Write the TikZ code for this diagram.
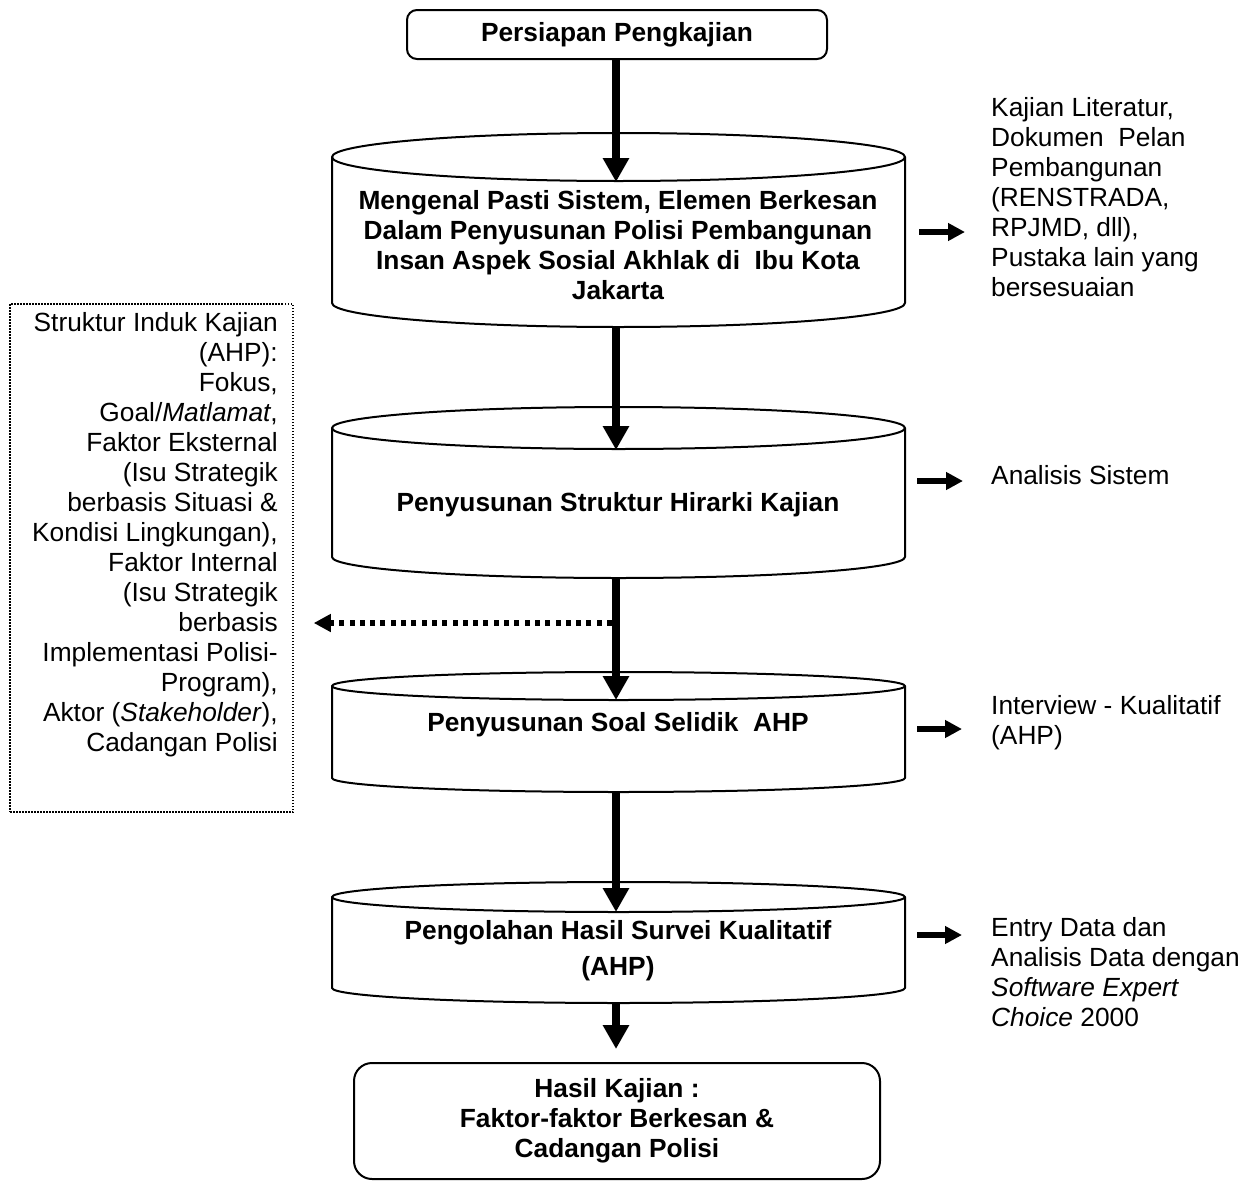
\documentclass[tikz,border=0pt]{standalone}
\usepackage{fontspec}
\setmainfont{Liberation Sans}
\usetikzlibrary{arrows.meta}
\newcommand{\fsz}{\fontsize{26.3}{30}\selectfont}
\newcommand{\drawcyl}[5]{%
  \pgfmathsetmacro{\cylrx}{(#2-#1)/2}%
  \draw[cylline] (#1,-#3-#5) -- (#1,-#4+#5)
     arc[start angle=180,end angle=360,x radius=\cylrx pt,y radius=#5pt]
     -- (#2,-#3-#5)
     arc[start angle=0,end angle=180,x radius=\cylrx pt,y radius=#5pt] -- cycle;
  \draw[cylline] (#1,-#3-#5)
     arc[start angle=180,end angle=360,x radius=\cylrx pt,y radius=#5pt];
}
\begin{document}
\begin{tikzpicture}[x=1pt,y=1pt,
  cylline/.style={line width=2pt,fill=white,line join=round},
  bt/.style={font=\fsz\bfseries,inner sep=0pt,align=center},
  rt/.style={font=\fsz,inner sep=0pt,align=left,anchor=west},
  mainarr/.style={line width=8.5pt,-{Triangle[length=24pt,width=25pt]}},
  sidearr/.style={line width=6.5pt,-{Triangle[length=17pt,width=17pt]}},
  dotarr/.style={line width=6pt,dash pattern=on 5pt off 5.3pt,-{Triangle[length=17pt,width=17pt]}},
  dotbox/.style={draw,line width=1.5pt,dash pattern=on 1.5pt off 1.5pt,inner sep=0pt}
]
\useasboundingbox (0,0) rectangle (1254,-1181);

% cylinders
\drawcyl{332}{905}{133}{327}{24}
\drawcyl{332}{905}{407}{578}{21}
\drawcyl{332}{905}{672}{792}{14}
\drawcyl{332}{905}{882}{1003}{15}

% top box
\node[draw,line width=2pt,rounded corners=10pt,minimum height=49pt,minimum width=420pt,
      inner sep=0pt,align=center,font=\fsz\bfseries]
      (topbox) at (617,-34.5) {Persiapan Pengkajian};

% bottom box
\node[draw,line width=2pt,rounded corners=18pt,minimum width=526pt,minimum height=116pt,
      inner sep=0pt,align=center,font=\fsz\bfseries]
      (resbox) at (617,-1121) {Hasil Kajian :\\Faktor-faktor Berkesan \&\\Cadangan Polisi};

% cylinder texts
\node[bt] (c1) at (618,-245) {Mengenal Pasti Sistem, Elemen Berkesan\\Dalam Penyusunan Polisi Pembangunan\\Insan Aspek Sosial Akhlak di\ \ Ibu Kota\\Jakarta};
\node[bt] (c2) at (618,-505) {Penyusunan Struktur Hirarki Kajian};
\node[bt] (c3) at (618,-724.5) {Penyusunan Soal Selidik\ \ AHP};
\node[bt,font=\fontsize{26.3}{36}\selectfont\bfseries] (c4) at (618,-951) {Pengolahan Hasil Survei Kualitatif\\(AHP)};

% coordinates on the cylinders
\coordinate (c1top) at (616,-182);
\coordinate (c1bot) at (616,-327);
\coordinate (c2top) at (616,-450);
\coordinate (c2bot) at (616,-578);
\coordinate (c3top) at (616,-700);
\coordinate (c3bot) at (616,-792);
\coordinate (c4top) at (616,-912);
\coordinate (c4bot) at (616,-1003);

% right texts
\node[rt] (r1) at (991,-197.5) {Kajian Literatur,\\Dokumen\ \ Pelan\\Pembangunan\\(RENSTRADA,\\RPJMD, dll),\\Pustaka lain yang\\bersesuaian};
\node[rt] (r2) at (991,-475) {Analisis Sistem};
\node[rt] (r3) at (991,-723) {Interview - Kualitatif\\(AHP)};
\node[rt] (r4) at (991,-972) {Entry Data dan\\Analisis Data dengan\\\textit{Software Expert}\\\textit{Choice} 2000};

% left dotted box
\node[dotbox,minimum width=283pt,minimum height=508pt] (lbox) at (151.5,-558) {};
\node[font=\fsz,inner sep=0pt,align=right,anchor=east] (ltext) at (278,-535)
 {Struktur Induk Kajian\\(AHP):\\Fokus,\\Goal/\textit{Matlamat},\\Faktor Eksternal\\(Isu Strategik\\berbasis Situasi \&\\Kondisi Lingkungan),\\Faktor Internal\\(Isu Strategik\\berbasis\\Implementasi Polisi-\\Program),\\Aktor (\textit{Stakeholder}),\\Cadangan Polisi};

% main arrows
\draw[mainarr] (topbox.south -| c1top) -- (c1top);
\draw[mainarr] (c1bot) -- (c2top);
\draw[mainarr] (c2bot) -- (c3top);
\draw[mainarr] (c3bot) -- (c4top);
\draw[mainarr] (c4bot) -- ([yshift=13pt]resbox.north -| c4bot);

% dotted arrow
\coordinate (dotstart) at (612,-623);
\draw[dotarr] (dotstart) -- ([xshift=20pt]lbox.east |- dotstart);

% side arrows
\coordinate (s1a) at (919,-232); \coordinate (s1b) at (965,-232);
\coordinate (s2a) at (917,-481); \coordinate (s2b) at (963,-481);
\coordinate (s3a) at (917,-729); \coordinate (s3b) at (962,-729);
\coordinate (s4a) at (917,-935); \coordinate (s4b) at (962,-935);
\draw[sidearr] (s1a) -- (s1b);
\draw[sidearr] (s2a) -- (s2b);
\draw[sidearr] (s3a) -- (s3b);
\draw[sidearr] (s4a) -- (s4b);
\end{tikzpicture}
\end{document}
